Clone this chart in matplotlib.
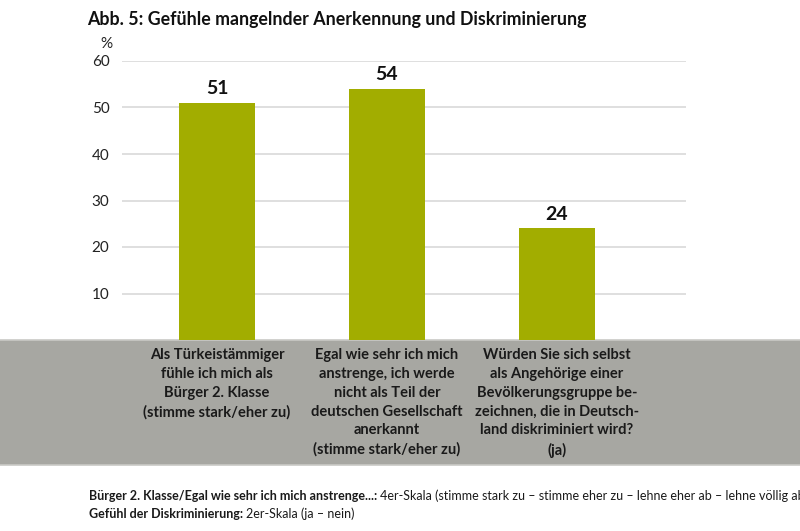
import matplotlib
matplotlib.use("Agg")
import matplotlib.pyplot as plt
from matplotlib.patches import Rectangle
from matplotlib.lines import Line2D

plt.rcParams["font.family"] = ["Lato", "DejaVu Sans"]

TITLE = "Abb. 5: Gefühle mangelnder Anerkennung und Diskriminierung"
categories = [
    "Als Türkeistämmiger\nfühle ich mich als\nBürger 2. Klasse\n(stimme stark/eher zu)",
    "Egal wie sehr ich mich\nanstrenge, ich werde\nnicht als Teil der\ndeutschen Gesellschaft\nanerkannt\n(stimme stark/eher zu)",
    "Würden Sie sich selbst\nals Angehörige einer\nBevölkerungsgruppe be-\nzeichnen, die in Deutsch-\nland diskriminiert wird?\n(ja)",
]
values = [51, 54, 24]
yticks = [10, 20, 30, 40, 50, 60]
footer = [
    ("Bürger 2. Klasse/Egal wie sehr ich mich anstrenge...: ",
     "4er-Skala (stimme stark zu – stimme eher zu – lehne eher ab – lehne völlig ab)"),
    ("Gefühl der Diskriminierung: ", "2er-Skala (ja – nein)"),
]

GREEN = "#a2ad00"
BAND = "#a7a7a2"
GRID = "#d9d9d9"

W, H = 800, 531
fig = plt.figure(figsize=(W / 100, H / 100), dpi=100)


def fx(px):
    return px / W


def fy(py):
    return 1 - py / H


# grey label band behind the category texts
fig.patches.append(Rectangle((0, fy(465)), 1, fy(340) - fy(465), transform=fig.transFigure,
                             facecolor=BAND, edgecolor="none", zorder=0))
for yb in (340, 465):
    fig.lines.append(Line2D([0, 1], [fy(yb), fy(yb)], transform=fig.transFigure,
                            color="#c9c9c6", lw=1.2, zorder=0.5))

ax = fig.add_axes([fx(122), fy(340), fx(564), 279 / H])
ax.set_zorder(2)
ax.set_facecolor("none")
x = list(range(len(values)))
ax.bar(x, values, width=0.447, color=GREEN, zorder=3)
ax.set_xlim(-0.559, 2.759)
ax.set_ylim(0, 60)
for t in yticks:
    ax.axhline(t, color=GRID, lw=1.2, zorder=1)
ax.set_yticks(yticks)
ax.set_yticklabels([str(t) for t in yticks], fontsize=11, color="#222222")
ax.tick_params(axis="y", length=0, pad=9)
ax.set_xticks([])
for s in ax.spines.values():
    s.set_visible(False)

for xi, v in zip(x, values):
    ax.annotate(str(v), (xi, v), xytext=(0, 4), textcoords="offset points",
                ha="center", va="bottom", fontsize=14, fontweight="bold", color="#111111")

for xi, lab in zip(x, categories):
    ax.annotate(lab, (xi, 0), xytext=(0, -6), textcoords="offset points",
                ha="center", va="top", fontsize=10.5, fontweight="bold", color="#1a1a1a",
                linespacing=1.43, annotation_clip=False)

fig.text(fx(106), fy(44), "%", fontsize=11, ha="center", va="center", color="#222222")
fig.text(fx(87), fy(20), TITLE, fontsize=12.8, fontweight="bold", ha="left", va="center",
         color="#111111")

renderer = fig.canvas.get_renderer()
for i, (bold, rest) in enumerate(footer):
    yy = fy(496 + i * 18)
    t1 = fig.text(fx(89), yy, bold, fontsize=9, fontweight="bold", ha="left", va="center",
                  color="#1a1a1a")
    bb = t1.get_window_extent(renderer)
    fig.text(bb.x1 / W, yy, rest, fontsize=9, ha="left", va="center", color="#1a1a1a")

fig.savefig("out.png", dpi=100)
